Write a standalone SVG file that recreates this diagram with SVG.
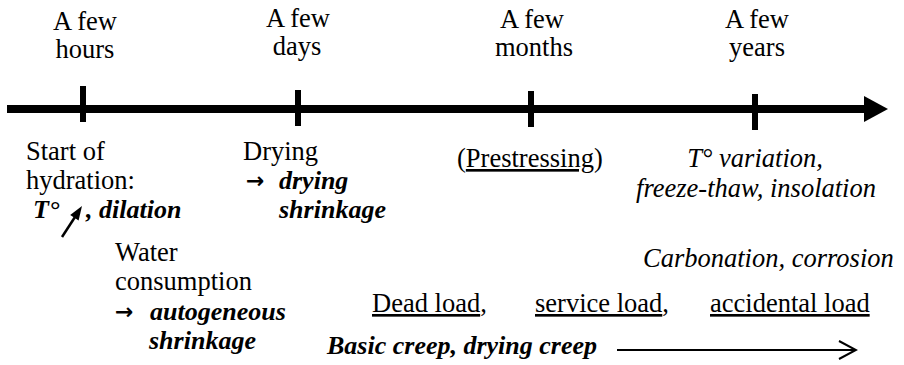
<svg xmlns="http://www.w3.org/2000/svg" width="904" height="365" viewBox="0 0 904 365">
<defs>
<marker id="open" viewBox="0 0 20 20" refX="18" refY="10" markerWidth="20" markerHeight="20" markerUnits="userSpaceOnUse" orient="auto">
<polyline points="1,1 18,10 1,19" fill="none" stroke="#000" stroke-width="2"/>
</marker>
</defs>
<g id="connectors" stroke="#000" fill="none">
<line x1="7" y1="109" x2="868" y2="109" stroke-width="8"/>
<polygon points="864,96 888,109 864,122" fill="#000" stroke="none"/>
<line x1="83" y1="86" x2="83" y2="122" stroke-width="6"/>
<line x1="298" y1="90" x2="298" y2="126" stroke-width="6"/>
<line x1="531" y1="91" x2="531" y2="127" stroke-width="6"/>
<line x1="755" y1="94" x2="755" y2="130" stroke-width="6"/>
<line x1="62" y1="237" x2="75" y2="217" stroke-width="2.5"/>
<polygon points="82,206 78.6,220.5 70.2,215.1" fill="#000" stroke="none"/>
<line x1="617" y1="350" x2="856" y2="350" stroke-width="2" marker-end="url(#open)"/>
</g>
<g font-size="26.5" fill="#000" font-family="Liberation Serif">
<g id="hours" text-anchor="middle"><text x="85" y="30" style="font-family:'Liberation Serif',serif !important">A few</text><text x="85" y="58" style="font-family:'Liberation Serif',serif !important">hours</text></g>
<g id="days" text-anchor="middle"><text x="298" y="27" style="font-family:'Liberation Serif',serif !important">A few</text><text x="297" y="55" style="font-family:'Liberation Serif',serif !important">days</text></g>
<g id="months" text-anchor="middle"><text x="532" y="28" style="font-family:'Liberation Serif',serif !important">A few</text><text x="534" y="56" style="font-family:'Liberation Serif',serif !important">months</text></g>
<g id="years" text-anchor="middle"><text x="757" y="28" style="font-family:'Liberation Serif',serif !important">A few</text><text x="757" y="56" style="font-family:'Liberation Serif',serif !important">years</text></g>
<g id="hydration">
<text x="26" y="160" style="font-family:'Liberation Serif',serif !important">Start of</text>
<text x="26" y="189" style="font-family:'Liberation Serif',serif !important">hydration:</text>
<text x="33" y="218" font-weight="bold" font-style="italic" font-size="26" style="font-family:'Liberation Serif',serif !important">T°</text>
<text x="86" y="218" font-weight="bold" font-style="italic" font-size="26" style="font-family:'Liberation Serif',serif !important">, dilation</text>
</g>
<g id="drying">
<text x="243" y="160" style="font-family:'Liberation Serif',serif !important">Drying</text>
<text x="246" y="188" font-weight="bold" font-size="22" style="font-family:'DejaVu Sans',sans-serif !important">→</text>
<text x="279" y="189" font-weight="bold" font-style="italic" font-size="26" style="font-family:'Liberation Serif',serif !important">drying</text>
<text x="279" y="218" font-weight="bold" font-style="italic" font-size="26" style="font-family:'Liberation Serif',serif !important">shrinkage</text>
</g>
<g id="water">
<text x="115" y="261" style="font-family:'Liberation Serif',serif !important">Water</text>
<text x="115" y="290" style="font-family:'Liberation Serif',serif !important">consumption</text>
<text x="115" y="319" font-weight="bold" font-size="22" style="font-family:'DejaVu Sans',sans-serif !important">→</text>
<text x="150" y="320" font-weight="bold" font-style="italic" font-size="26" style="font-family:'Liberation Serif',serif !important">autogeneous</text>
<text x="149" y="349" font-weight="bold" font-style="italic" font-size="26" style="font-family:'Liberation Serif',serif !important">shrinkage</text>
</g>
<g id="prestressing"><text x="457" y="167" style="font-family:'Liberation Serif',serif !important">(<tspan text-decoration="underline">Prestressing</tspan>)</text></g>
<g id="temperature" font-style="italic" text-anchor="middle">
<text x="755" y="167" style="font-family:'Liberation Serif',serif !important">T° variation,</text>
<text x="756" y="197" style="font-family:'Liberation Serif',serif !important">freeze-thaw, insolation</text>
</g>
<g id="carbonation"><text x="643" y="267" font-style="italic" style="font-family:'Liberation Serif',serif !important">Carbonation, corrosion</text></g>
<g id="loads">
<text x="372" y="312" style="font-family:'Liberation Serif',serif !important"><tspan text-decoration="underline">Dead load</tspan>,</text>
<text x="535" y="312" style="font-family:'Liberation Serif',serif !important"><tspan text-decoration="underline">service load</tspan>,</text>
<text x="710" y="312" style="font-family:'Liberation Serif',serif !important"><tspan text-decoration="underline">accidental load</tspan></text>
</g>
<g id="creep"><text x="327" y="354" font-weight="bold" font-style="italic" font-size="26" style="font-family:'Liberation Serif',serif !important">Basic creep, drying creep</text></g>
</g>
</svg>
